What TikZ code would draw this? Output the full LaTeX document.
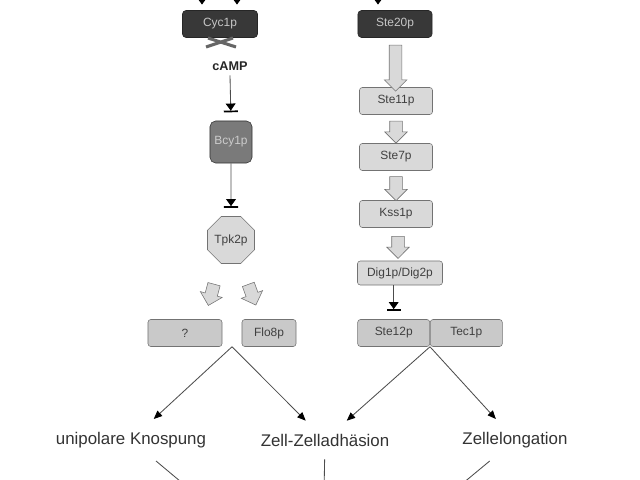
\documentclass[tikz,border=0pt]{standalone}
\usepackage{fontspec}
\setmainfont{Liberation Sans}
\usetikzlibrary{arrows.meta,positioning,calc,shapes.geometric,shapes.arrows}
\definecolor{kdark}{gray}{0.22}
\definecolor{kmid}{gray}{0.48}
\definecolor{klight}{gray}{0.85}
\definecolor{kbox}{gray}{0.79}
\definecolor{kedge}{gray}{0.45}
\definecolor{kline}{gray}{0.30}
\tikzset{
  boxfont/.style={font=\fontsize{8.5}{10}\selectfont},
  darkbox/.style={draw=black!85, fill=kdark, rounded corners=2.5pt, text=gray!45,
                  boxfont, minimum height=0.675cm, minimum width=1.85cm, inner sep=2pt},
  midbox/.style={draw=gray!40!black, fill=kmid, rounded corners=4pt, text=gray!40,
                 boxfont, minimum size=1.05cm, inner sep=1pt},
  protbox/.style={draw=kedge, fill=klight, rounded corners=2pt, text=black!75,
                  boxfont, minimum height=0.675cm, minimum width=1.825cm, inner sep=2pt},
  tfbox/.style={protbox, fill=kbox, minimum width=1.8cm},
  octabox/.style={regular polygon, regular polygon sides=8, draw=kedge, fill=klight,
                  minimum size=1.19cm, inner sep=0pt, boxfont, text=black!75},
  effect/.style={font=\fontsize{12}{14}\selectfont, text=black!80, outer sep=6pt},
  bigarr/.style={single arrow, draw=kedge, fill=klight, inner xsep=0pt, inner ysep=0.15cm,
                 single arrow head extend=0.125cm, minimum height=#1},
  sigarr/.style={-{Triangle[length=6pt,width=5pt,black]}, kline, semithick},
  inharr/.style={-{Triangle[length=5pt,width=7pt,sep=0pt,black]Bar[width=10pt,line width=1.2pt,black]},
                 kline, semithick, shorten >=6pt},
  inarr/.style={-{Triangle[length=5pt,width=7pt]}, black, thick, shorten >=4pt}
}
\begin{document}
\begin{tikzpicture}[x=0.025cm, y=-0.025cm]
  \useasboundingbox (0,0) rectangle (640,480);
  \clip (0,0) rectangle (640,480);

  % cAMP / PKA
  \node[darkbox, minimum width=1.875cm] (cyc) at (220,24) {Cyc1p};
  \node[font=\bfseries\fontsize{9}{10}\selectfont, text=black!85] (camp) at (230,66) {cAMP};
  \node[midbox] (bcy) at (231,142) {Bcy1p};
  \node[octabox] (tpk) at (231,240) {Tpk2p};
  \node[tfbox, minimum width=1.85cm] (unk) at (185,333) {?};
  \node[tfbox, minimum width=1.35cm] (flo) at (269,333) {Flo8p};

  % MAPK
  \node[darkbox] (s20) at (395,24) {Ste20p};
  \node[protbox] (s11) at (396,101) {Ste11p};
  \node[protbox] (s7)  at (396,157) {Ste7p};
  \node[protbox] (kss) at (396,214) {Kss1p};
  \node[protbox, minimum width=2.125cm, minimum height=0.6cm] (dig) at (400,273) {Dig1p/Dig2p};
  \node[tfbox, anchor=east] (s12) at (430,333) {Ste12p};
  \node[tfbox, right=0pt of s12] (tec) {Tec1p};

  % Effekte
  \node[effect] (kno) at (131,440) {unipolare Knospung};
  \node[effect] (adh) at (325,440) {Zell-Zelladhäsion};
  \node[effect] (elo) at (515,440) {Zellelongation};

  \coordinate (upA) at (202,-40);
  \coordinate (upB) at (237,-40);
  \coordinate (upC) at (378,-40);
  \draw[inarr] (upA) -- (upA |- cyc.north);
  \draw[inarr] (upB) -- (upB |- cyc.north);
  \draw[inarr] (upC) -- (upC |- s20.north);

  \draw[black!60, line width=2.2pt] (206,47) -- (233,38) (208,38) -- (236,47);

  \draw[inharr] (camp.south) -- (bcy.north);
  \draw[inharr] (bcy) -- (tpk);
  \draw[inharr] (dig.south -| s12) -- (s12.north);

  \node[bigarr=0.55cm, rotate=-105] at ($(tpk.south)+(-19,28)$) {};
  \node[bigarr=0.55cm, rotate=-70]  at ($(tpk.south)+(20,28)$) {};

  \node[bigarr=1.15cm, rotate=-90] at ($(s20.south)!0.55!(s11.north)$) {};
  \node[bigarr=0.55cm, rotate=-90] at ($(s11.south)!0.5!(s7.north)$) {};
  \node[bigarr=0.6cm,  rotate=-90] at ($(s7.south)!0.5!(kss.north)$) {};
  \node[bigarr=0.55cm, rotate=-90] at ($(kss.south)!0.5!(dig.north)$) {};

  \coordinate (tfL) at ($(unk.south east)!0.5!(flo.south west)$);
  \draw[sigarr] (tfL) -- (kno);
  \draw[sigarr] (tfL) -- (adh);
  \draw[sigarr] (s12.south east) -- (adh);
  \draw[sigarr] (s12.south east) -- (elo);

  \coordinate (out) at (322,600);
  \draw[sigarr] (kno) -- (out);
  \draw[sigarr] (adh) -- (out);
  \draw[sigarr] (elo) -- (out);
\end{tikzpicture}
\end{document}
